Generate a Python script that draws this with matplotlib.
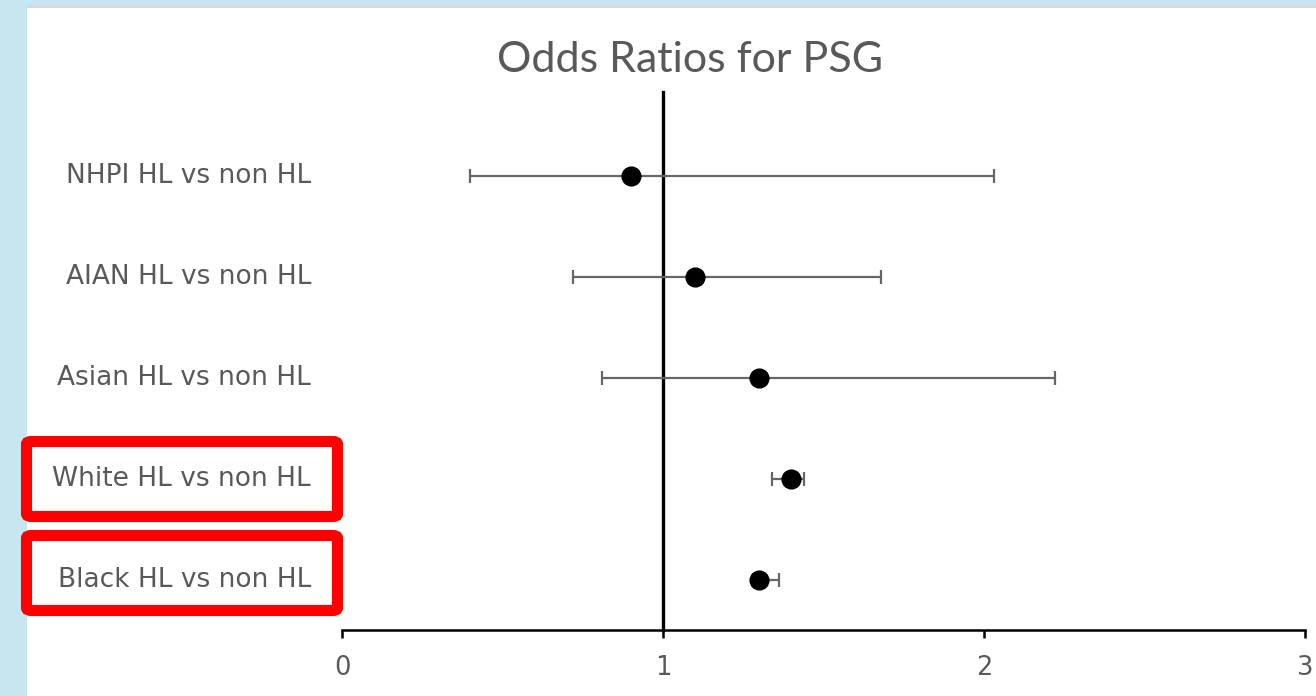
import matplotlib.pyplot as plt
import matplotlib.patches as patches

# Data
groups = ['NHPI HL vs non HL', 'AIAN HL vs non HL', 'Asian HL vs non HL',
          'White HL vs non HL', 'Black HL vs non HL']
odds_ratio = [0.90, 1.10, 1.30, 1.40, 1.30]
ci_low = [0.40, 0.72, 0.81, 1.34, 1.28]
ci_high = [2.03, 1.68, 2.22, 1.44, 1.36]
xticks = [0, 1, 2, 3]
highlighted = ['White HL vs non HL', 'Black HL vs non HL']

gray = '#595959'
light_blue = '#C8E6F0'

fig = plt.figure(figsize=(13.16, 6.96), dpi=100)
fig.patch.set_facecolor('white')

# slide background pieces (left strip and top band)
fig.add_artist(patches.Rectangle((0, 0), 27 / 1316, 1, transform=fig.transFigure,
                                 facecolor=light_blue, edgecolor='none', zorder=0))
fig.add_artist(patches.Rectangle((0, 1 - 5 / 696), 1, 5 / 696, transform=fig.transFigure,
                                 facecolor=light_blue, edgecolor='none', zorder=0))
fig.add_artist(patches.Rectangle((27 / 1316, 1 - 8 / 696), 1, 3 / 696, transform=fig.transFigure,
                                 facecolor='#D9D9D9', edgecolor='none', zorder=0))

ax = fig.add_axes([342 / 1316, 1 - 630 / 696, 963 / 1316, 538 / 696])
ax.set_facecolor('none')

ypos = list(range(len(groups), 0, -1))
xerr = [[o - l for o, l in zip(odds_ratio, ci_low)],
        [h - o for o, h in zip(odds_ratio, ci_high)]]
ax.errorbar(odds_ratio, ypos, xerr=xerr, fmt='o', color='black', markersize=13.5,
            ecolor='#666666', elinewidth=1.6, capsize=5, capthick=1.6, zorder=3)

ax.set_xlim(0, 3)
ax.set_ylim(0.5, 5.83)

ax.spines['top'].set_visible(False)
ax.spines['right'].set_visible(False)
ax.spines['left'].set_position(('data', 1))
ax.spines['left'].set_linewidth(2.4)
ax.spines['left'].set_zorder(2)
ax.spines['bottom'].set_linewidth(1.8)
ax.set_yticks([])
ax.set_xticks(xticks)
ax.set_xticklabels([str(t) for t in xticks])
ax.tick_params(axis='x', direction='out', length=6, width=1.8, pad=12,
               labelsize=18.5, labelcolor=gray)

for label, y in zip(groups, ypos):
    ax.text(-0.032, y, label, transform=ax.get_yaxis_transform(), ha='right',
            va='center', fontsize=19, color=gray, family='DejaVu Sans')

fig.text(690 / 1316, 1 - 60 / 696, 'Odds Ratios for PSG', ha='center', va='center',
         fontsize=31, color=gray, family='Lato')

# red highlight boxes around the White and Black labels
box_tops = {'White HL vs non HL': 441.5, 'Black HL vs non HL': 535.5}
for name in highlighted:
    top = box_tops[name]
    box = patches.FancyBboxPatch((26.5 / 1316, 1 - (top + 75) / 696), 311 / 1316, 75 / 696,
                                 boxstyle='round,pad=0,rounding_size=0.004',
                                 transform=fig.transFigure, facecolor='none',
                                 edgecolor='#FF0000', linewidth=8, zorder=5)
    fig.add_artist(box)

fig.savefig('out.png', dpi=100)
